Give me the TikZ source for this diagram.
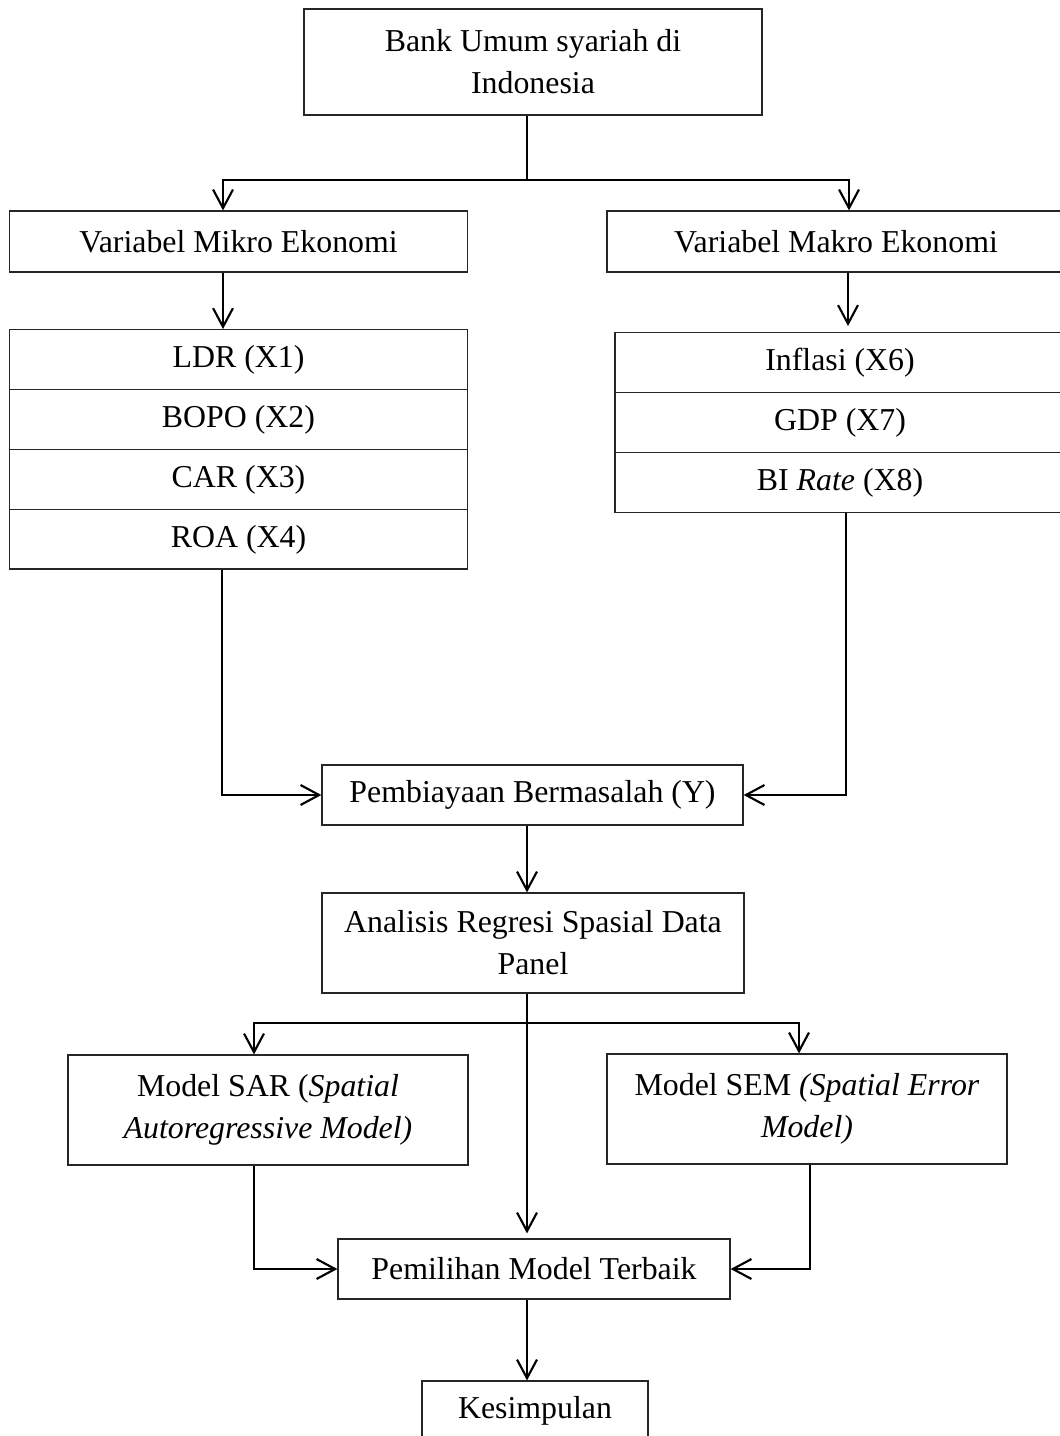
\documentclass[tikz,border=0pt]{standalone}
\usepackage{fontspec}
\setmainfont{Liberation Serif}
\usetikzlibrary{shapes,arrows.meta,positioning}
\newlength\pxl
\setlength\pxl{0.3768pt}

\begin{document}
\begin{tikzpicture}[x=\pxl,y=-\pxl,
  box/.style={draw=black!85, line width=0.45pt, align=center, inner sep=2pt, font=\fontsize{12}{15.8}\selectfont},
  wh/.style 2 args={minimum width=#1*\pxl, minimum height=#2*\pxl},
  list/.style={box, shape=rectangle split, rectangle split parts=#1, inner ysep=3.15pt},
  conn/.style={line width=0.8pt},
  arr/.style={conn, -{Straight Barb[length=7pt,width=7.5pt]}}]
\useasboundingbox (0,0) rectangle (1059,1436);
\coordinate (spine) at (527,0);
\node[box, wh={458}{106}] (bank) at (533,62) {Bank Umum syariah di\\Indonesia};
\node[box, wh={458}{61}] (mikro) at (238.5,241.5) {Variabel Mikro Ekonomi};
\node[box, wh={458}{61}] (makro) at (836,241.5) {Variabel Makro Ekonomi};
\node[list=4, minimum width=458*\pxl, anchor=north] (xmikro) at (238.5,329) {\strut LDR (X1)\nodepart{two}\strut BOPO (X2)\nodepart{three}\strut CAR (X3)\nodepart{four}\strut ROA (X4)};
\node[list=3, minimum width=450*\pxl, anchor=north] (xmakro) at (840,332) {\strut Inflasi (X6)\nodepart{two}\strut GDP (X7)\nodepart{three}\strut BI \textit{Rate} (X8)};
\node[box, wh={421}{60}] (npf) at (532.5,795) {Pembiayaan Bermasalah (Y)};
\node[box, wh={422}{100}] (sdp) at (533,943) {Analisis Regresi Spasial Data\\Panel};
\node[box, wh={400}{110}] (sar) at (268,1110) {Model SAR (\textit{Spatial}\\\textit{Autoregressive Model)}};
\node[box, wh={400}{110}] (sem) at (807,1109) {Model SEM \textit{(Spatial Error}\\\textit{Model)}};
\node[box, wh={392}{60}] (best) at (534,1269) {Pemilihan Model Terbaik};
\node[box, wh={226}{60}] (kes) at (535,1411) {Kesimpulan};

% top branch
\coordinate (split1) at (527,180);
\draw[conn] (bank.south -| split1) -- (split1);
\draw[arr] (split1) -| ([xshift=-15.5\pxl]mikro.north);
\draw[arr] (split1) -| ([xshift=13\pxl]makro.north);
\draw[arr] ([xshift=-15.5\pxl]mikro.south) -- ([xshift=-15.5\pxl]mikro.south |- xmikro.north);
\draw[arr, shorten >=6\pxl] ([xshift=12\pxl]makro.south) -- ([xshift=12\pxl]makro.south |- xmakro.north);
\draw[arr] ([xshift=-16.5\pxl]xmikro.south) |- (npf.west);
\draw[arr] ([xshift=6\pxl]xmakro.south) |- (npf.east);
\draw[arr] (npf.south -| spine) -- (sdp.north -| spine);

% model branch
\coordinate (split2) at (527,1023);
\draw[conn] (sdp.south -| split2) -- (split2);
\draw[arr] (split2) -| ([xshift=-14\pxl]sar.north);
\draw[arr] (split2) -| ([xshift=-8\pxl]sem.north);
\draw[arr, shorten >=5\pxl] (split2) -- (best.north -| split2);
\draw[arr] ([xshift=-14\pxl]sar.south) |- (best.west);
\draw[arr] ([xshift=3\pxl]sem.south) |- (best.east);
\draw[arr] (best.south -| spine) -- (kes.north -| spine);
\end{tikzpicture}
\end{document}
